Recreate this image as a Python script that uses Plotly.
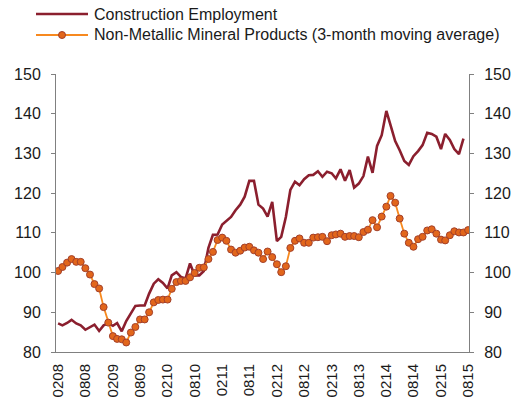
import pandas as pd
import plotly.graph_objects as go

# Monthly index values (Feb 2008 - Aug 2015)
construction = [
    87.2, 86.7, 87.3, 88.1, 87.2, 86.7, 85.6, 86.3, 86.9, 85.3,
    86.7, 87.2, 86.6, 87.3, 85.2, 87.8, 89.7, 91.6, 91.7, 91.7,
    94.7, 97.2, 98.3, 97.4, 96.0, 99.3, 100.1, 98.9, 98.5, 102.3,
    99.3, 99.3, 100.4, 106.2, 109.5, 109.6, 112.1, 112.9, 114.0, 115.7,
    117.1, 119.1, 123.1, 123.1, 117.1, 116.1, 114.1, 117.8, 107.9, 109.0,
    114.0, 120.8, 122.9, 122.0, 123.5, 124.5, 124.6, 125.5, 124.1, 125.4,
    125.0, 123.7, 126.0, 123.1, 125.8, 121.4, 122.4, 124.3, 129.2, 125.1,
    131.9, 134.6, 140.7, 137.1, 133.1, 130.8, 128.1, 127.1, 129.3, 130.6,
    132.1, 135.2, 134.9, 134.2, 131.1, 134.9, 133.4, 131.1, 129.8, 133.7,
]
non_metallic = [
    100.4, 101.4, 102.5, 103.4, 102.7, 102.7, 101.1, 99.5, 97.1, 96.0,
    91.3, 87.4, 84.0, 83.3, 83.2, 82.4, 84.9, 86.3, 88.2, 88.2,
    90.0, 92.5, 93.1, 93.2, 93.2, 95.9, 97.6, 97.9, 97.9, 98.8,
    99.9, 101.2, 101.3, 103.4, 105.2, 108.2, 108.8, 108.0, 105.8, 105.0,
    105.5, 106.3, 106.5, 105.6, 105.0, 103.4, 105.3, 103.9, 102.1, 100.1,
    101.6, 106.2, 108.0, 108.6, 107.5, 107.5, 108.8, 108.9, 109.0, 107.9,
    109.4, 109.6, 109.8, 109.0, 109.2, 109.2, 108.9, 110.2, 110.8, 113.2,
    111.4, 114.1, 116.6, 119.3, 117.6, 113.6, 109.8, 107.5, 106.5, 108.4,
    109.0, 110.6, 110.9, 109.8, 108.3, 108.1, 109.4, 110.4, 110.1, 110.1,
    110.7,
]
months = pd.date_range("2008-02-01", periods=len(non_metallic), freq="MS")
tick_dates = months[::6]
tick_labels = ["0208", "0808", "0209", "0809", "0210", "0810", "0211", "0811",
               "0212", "0812", "0213", "0813", "0214", "0814", "0215", "0815"]

CONSTRUCTION_COLOR = "#8B1F2E"
LINE_ORANGE = "#F7891F"
MARKER_FILL = "#E2661B"
MARKER_EDGE = "#A3402A"
AXIS_COLOR = "#808080"
TEXT_COLOR = "#1a1a1a"
FONT = "Liberation Sans, Arial, sans-serif"

# plot area in pixels (513x401 canvas)
W, H = 513, 401
L, R, T, B = 56, 44, 74, 49


def px_x(p):
    return (p - L) / (W - L - R)


def px_y(p):
    return (H - B - p) / (H - T - B)


fig = go.Figure()

fig.add_trace(go.Scatter(
    x=months[:len(construction)], y=construction, mode="lines",
    name="Construction Employment",
    line=dict(color=CONSTRUCTION_COLOR, width=2.6),
))
fig.add_trace(go.Scatter(
    x=months, y=non_metallic, mode="lines+markers", yaxis="y2",
    name="Non-Metallic Mineral Products (3-month moving average)",
    line=dict(color=LINE_ORANGE, width=1.8),
    marker=dict(size=7, color=MARKER_FILL, line=dict(color=MARKER_EDGE, width=1)),
))

axis_common = dict(
    range=[80, 150], dtick=10, showgrid=False, zeroline=False,
    showline=True, linecolor=AXIS_COLOR, linewidth=1,
    ticks="outside", ticklen=4, tickcolor=AXIS_COLOR,
    ticklabelstandoff=7, automargin=False,
    tickfont=dict(family=FONT, size=16, color=TEXT_COLOR),
)

# hand-made legend: long line samples like the original
shapes = [
    dict(type="line", xref="paper", yref="paper",
         x0=px_x(36), x1=px_x(88), y0=px_y(14), y1=px_y(14),
         line=dict(color=CONSTRUCTION_COLOR, width=2.6)),
    dict(type="line", xref="paper", yref="paper",
         x0=px_x(36), x1=px_x(88), y0=px_y(35), y1=px_y(35),
         line=dict(color=LINE_ORANGE, width=1.8)),
    dict(type="circle", xref="paper", yref="paper",
         xsizemode="pixel", ysizemode="pixel",
         xanchor=px_x(62), yanchor=px_y(35), x0=-3.5, x1=3.5, y0=-3.5, y1=3.5,
         fillcolor=MARKER_FILL, line=dict(color=MARKER_EDGE, width=1)),
]
annotations = [
    dict(text="Construction Employment", xref="paper", yref="paper",
         x=px_x(92), y=px_y(14), xanchor="left", yanchor="middle", showarrow=False,
         font=dict(family=FONT, size=16, color=TEXT_COLOR)),
    dict(text="Non-Metallic Mineral Products (3-month moving average)",
         xref="paper", yref="paper",
         x=px_x(92), y=px_y(35), xanchor="left", yanchor="middle", showarrow=False,
         font=dict(family=FONT, size=16, color=TEXT_COLOR)),
]

fig.update_layout(
    width=W, height=H,
    margin=dict(l=L, r=R, t=T, b=B),
    paper_bgcolor="white", plot_bgcolor="white",
    showlegend=False,
    xaxis=dict(
        range=["2008-01-18", "2015-08-07"],
        tickvals=tick_dates, ticktext=tick_labels, tickangle=-90,
        showgrid=False, zeroline=False, showline=True,
        linecolor=AXIS_COLOR, linewidth=1, ticks="",
        ticklabelstandoff=5, automargin=False,
        tickfont=dict(family=FONT, size=15, color=TEXT_COLOR),
    ),
    yaxis=dict(**axis_common, side="left"),
    yaxis2=dict(**axis_common, side="right", overlaying="y"),
    shapes=shapes,
    annotations=annotations,
)

# drop the default page margin so the chart sits at the window origin
fig.write_html("out.html", config=dict(displayModeBar=False),
               post_script="document.body.style.margin='0';")
